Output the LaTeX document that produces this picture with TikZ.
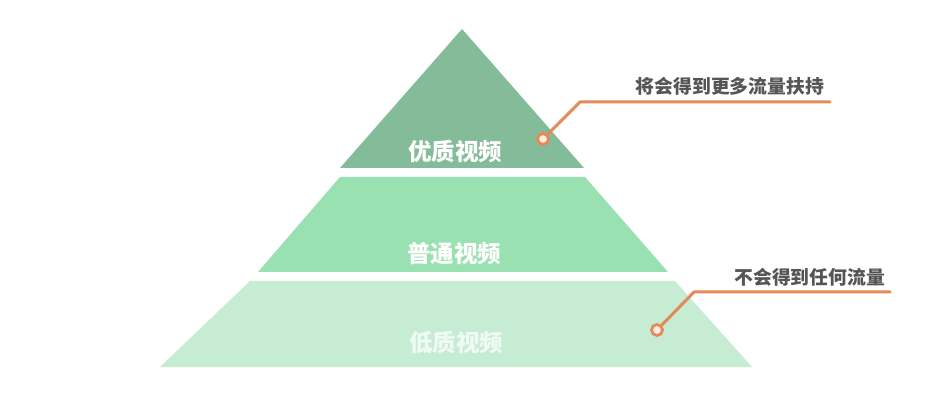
\documentclass[tikz,border=0pt]{standalone}
\usepackage{fontspec}
\newfontfamily\cjk{Noto Sans CJK SC}
\begin{document}
\begin{tikzpicture}[x=1pt,y=-1pt,
  lvltext/.style={font=\cjk\bfseries\fontsize{23.5}{24}\selectfont, text=white, inner sep=0pt},
  calltext/.style={font=\cjk\bfseries\fontsize{18.8}{19}\selectfont, text=textgray, inner sep=0pt, anchor=south east},
  leader/.style={draw=leadorange, line width=3pt, line cap=round, line join=round},
  ring/.style={circle, draw=leadorange, line width=2.8pt, fill=ringfill, minimum size=11pt, inner sep=0pt}]
\definecolor{topgreen}{RGB}{132,187,152}
\definecolor{midgreen}{RGB}{153,225,176}
\definecolor{lowgreen}{RGB}{198,236,212}
\definecolor{leadorange}{RGB}{229,137,86}
\definecolor{ringfill}{RGB}{252,236,226}
\definecolor{textgray}{RGB}{85,85,85}
\useasboundingbox (0,0) rectangle (948,403);
\fill[white] (0,0) rectangle (948,403);
% pyramid tiers
\fill[topgreen] (462,29) -- (584,168) -- (340,168) -- cycle;
\fill[midgreen] (340,177) -- (585,177) -- (668,272) -- (258,272) -- cycle;
\fill[lowgreen] (250,281) -- (675,281) -- (752,367) -- (160,367) -- cycle;
% tier labels
\node[lvltext] (t1) at (455,152) {优质视频};
\node[lvltext] (t2) at (454,254) {普通视频};
\node[lvltext, text opacity=0.75] (t3) at (456,342) {低质视频};
% callout 1
\node[ring] (d1) at (543,139) {};
\coordinate (k1) at (580,102);
\coordinate (e1) at (830,102);
\node[calltext] (c1) at (824,96) {将会得到更多流量扶持};
\draw[leader] (d1) -- (k1) -- (e1);
% callout 2
\node[ring] (d2) at (657,330) {};
\coordinate (k2) at (694,292);
\coordinate (e2) at (890,292);
\node[calltext] (c2) at (885,287) {不会得到任何流量};
\draw[leader] (d2) -- (k2) -- (e2);
\end{tikzpicture}
\end{document}
